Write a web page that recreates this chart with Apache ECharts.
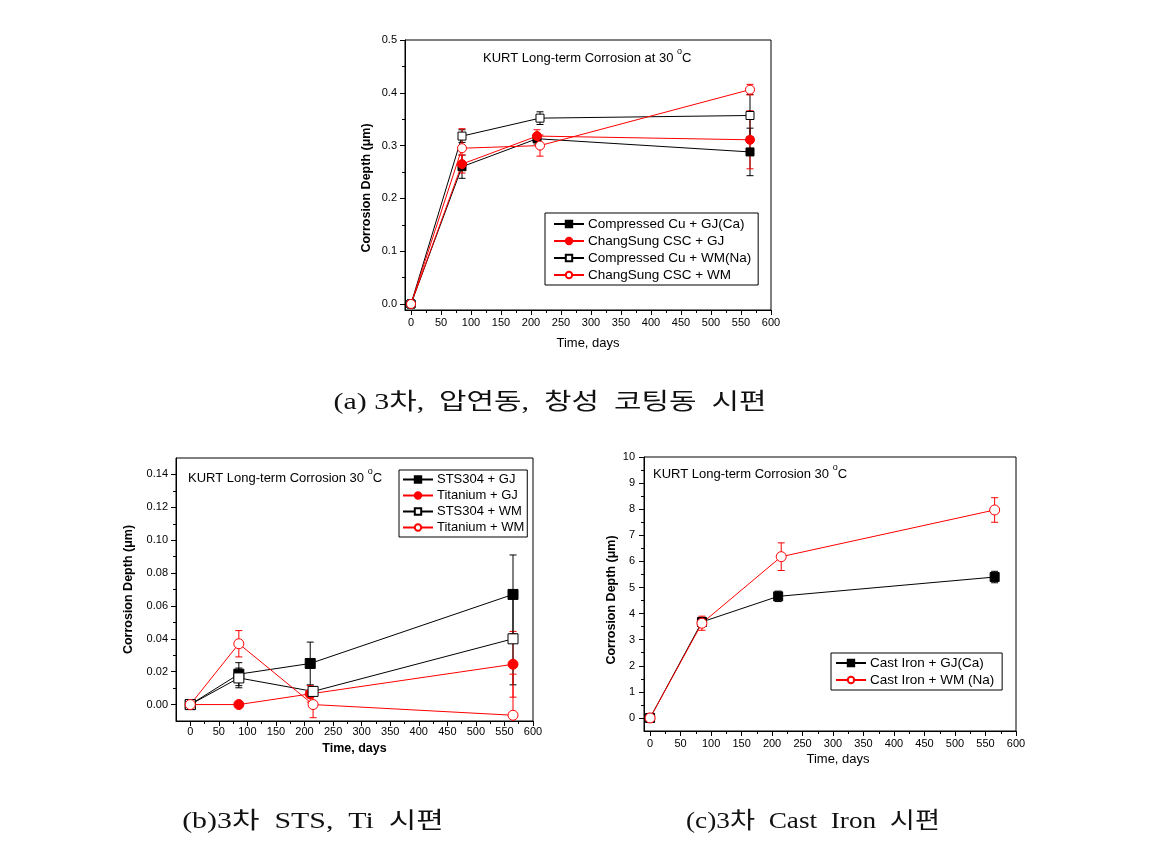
<!DOCTYPE html>
<html><head><meta charset="utf-8">
<script src="https://cdn.jsdelivr.net/npm/echarts@6/dist/echarts.min.js"></script>
<style>html,body{margin:0;padding:0;background:#fff}#c{width:1172px;height:856px}</style>
</head><body><div id="c"></div>
<script>
// ---------- data ----------
const xTicks = [0,50,100,150,200,250,300,350,400,450,500,550,600];
const xMinorTicks = [25,75,125,175,225,275,325,375,425,475,525,575];

// (a) copper
const aTimeGJ = [0, 85, 210, 565];
const aTimeWM = [0, 85, 215, 565];
const aCuGJ = [0, 0.260, 0.313, 0.288];
const aCuGJErr = [0, 0.022, 0.010, 0.045];
const aCscGJ = [0, 0.265, 0.318, 0.311];
const aCscGJErr = [0, 0.017, 0.012, 0.055];
const aCuWM = [0, 0.318, 0.352, 0.357];
const aCuWMErr = [0, 0.012, 0.012, 0.040];
const aCscWM = [0, 0.295, 0.300, 0.406];
const aCscWMErr = [0, 0.037, 0.020, 0.010];
const aYTicks = [0, 0.1, 0.2, 0.3, 0.4, 0.5];
const aYMinor = [0.05, 0.15, 0.25, 0.35, 0.45];

// (b) STS / Ti
const bTimeGJ = [0, 85, 210, 565];
const bTimeWM = [0, 85, 215, 565];
const bStsGJ = [0, 0.0185, 0.0250, 0.0670];
const bStsGJErr = [0, 0.007, 0.013, 0.024];
const bTiGJ = [0, 0.0000, 0.0065, 0.0245];
const bTiGJErr = [0, 0.001, 0.005, 0.020];
const bStsWM = [0, 0.0162, 0.0080, 0.0400];
const bStsWMErr = [0, 0.006, 0.003, 0.028];
const bTiWM = [0, 0.0370, 0.0000, -0.0065];
const bTiWMErr = [0, 0.008, 0.008, 0.025];
const bYTicks = [0, 0.02, 0.04, 0.06, 0.08, 0.10, 0.12, 0.14];
const bYMinor = [0.01, 0.03, 0.05, 0.07, 0.09, 0.11, 0.13];

// (c) cast iron
const cTimeGJ = [0, 85, 210, 565];
const cTimeWM = [0, 85, 215, 565];
const cIronGJ = [0, 3.68, 4.66, 5.40];
const cIronGJErr = [0, 0.15, 0.20, 0.22];
const cIronWM = [0, 3.63, 6.18, 7.97];
const cIronWMErr = [0, 0.27, 0.53, 0.47];
const cYTicks = [0,1,2,3,4,5,6,7,8,9,10];
const cYMinor = [0.5,1.5,2.5,3.5,4.5,5.5,6.5,7.5,8.5,9.5];

const captionA = '(a) 3\ucc28,  \uc555\uc5f0\ub3d9,  \ucc3d\uc131  \ucf54\ud305\ub3d9  \uc2dc\ud3b8';
const captionB = '(b)3\ucc28  STS,  Ti  \uc2dc\ud3b8';
const captionC = '(c)3\ucc28  Cast  Iron  \uc2dc\ud3b8';

// ---------- build ----------
const SANS = "'Liberation Sans', Arial, sans-serif";
const SERIF = "'Liberation Serif', 'Noto Sans CJK KR', serif";
const RED = '#ff0000', BLK = '#000000';

const grids = [
  {left: 405, top: 40, width: 366, height: 270, show: true, borderColor: '#000', borderWidth: 1},
  {left: 176, top: 458, width: 357, height: 263, show: true, borderColor: '#000', borderWidth: 1},
  {left: 644, top: 457, width: 372, height: 274, show: true, borderColor: '#000', borderWidth: 1}
];

const xAxes = [], yAxes = [];
function addAxes(gi, xr, yr, yMajor, yMinor, yDigits, opt) {
  xAxes.push({
    type: 'value', gridIndex: gi, min: xr[0], max: xr[1], position: 'bottom',
    name: 'Time, days', nameLocation: 'middle', nameGap: opt.xGap,
    nameTextStyle: {fontFamily: SANS, fontSize: opt.xNameSize, fontWeight: opt.xBold ? 'bold' : 'normal', color: '#000', padding: opt.xPad || 0},
    axisLine: {show: true, onZero: false, lineStyle: {color: '#000', width: 1}},
    axisTick: {show: true, length: 5, customValues: xTicks, lineStyle: {color: '#000'}},
    axisLabel: {show: true, customValues: xTicks, margin: opt.xMargin, fontFamily: SANS, fontSize: 11, color: '#000', formatter: v => String(v)},
    splitLine: {show: false}
  });
  xAxes.push({
    type: 'value', gridIndex: gi, min: xr[0], max: xr[1], position: 'bottom',
    axisLine: {show: false, onZero: false}, axisLabel: {show: false}, splitLine: {show: false},
    axisTick: {show: true, length: 3, customValues: xMinorTicks, lineStyle: {color: '#000'}}
  });
  yAxes.push({
    type: 'value', gridIndex: gi, min: yr[0], max: yr[1], position: 'left',
    name: 'Corrosion Depth (\u03bcm)', nameLocation: 'middle', nameGap: opt.yGap,
    nameTextStyle: {fontFamily: SANS, fontSize: opt.yNameSize, fontWeight: 'bold', color: '#000', padding: opt.yPad || 0},
    axisLine: {show: true, onZero: false, lineStyle: {color: '#000', width: 1}},
    axisTick: {show: true, length: 5, customValues: yMajor, lineStyle: {color: '#000'}},
    axisLabel: {show: true, customValues: yMajor, margin: opt.yMargin, fontFamily: SANS, fontSize: 11, color: '#000', formatter: v => v.toFixed(yDigits)},
    splitLine: {show: false}
  });
  yAxes.push({
    type: 'value', gridIndex: gi, min: yr[0], max: yr[1], position: 'left',
    axisLine: {show: false, onZero: false}, axisLabel: {show: false}, splitLine: {show: false},
    axisTick: {show: true, length: 3, customValues: yMinor, lineStyle: {color: '#000'}}
  });
}
addAxes(0, [-10, 600], [-0.0114, 0.5], aYTicks, aYMinor, 1,
  {xGap: 27, xNameSize: 13, xBold: false, xMargin: 7, yGap: 32, yNameSize: 12.5, yMargin: 8, yPad: [0, 26, 0, 0]});
addAxes(1, [-25, 600], [-0.01, 0.15], bYTicks, bYMinor, 2,
  {xGap: 21, xNameSize: 12.5, xBold: true, xMargin: 5, yGap: 41, yNameSize: 12.5, yMargin: 8});
addAxes(2, [-10, 600], [-0.5, 10], cYTicks, cYMinor, 0,
  {xGap: 22, xNameSize: 13, xBold: false, xMargin: 7, yGap: 26, yNameSize: 12.5, yMargin: 9, yPad: [0, 12, 0, 0], xPad: [0, 0, 0, 16]});

const series = [];
function addSeries(gi, name, t, v, e, color, filled, symbol, size) {
  series.push({
    type: 'custom', name: name + ' err', xAxisIndex: gi * 2, yAxisIndex: gi * 2, clip: true, z: 2,
    silent: true, legendHoverLink: false,
    data: t.map((x, i) => [x, v[i], e[i]]),
    encode: {x: 0, y: 1},
    renderItem: (params, api) => {
      const x = api.value(0), y = api.value(1), er = api.value(2);
      if (!er) return null;
      const p1 = api.coord([x, y + er]);
      const p2 = api.coord([x, y - er]);
      const w = 3.5;
      const st = {stroke: color, lineWidth: 1};
      return {type: 'group', children: [
        {type: 'line', shape: {x1: p1[0], y1: p1[1], x2: p2[0], y2: p2[1]}, style: st},
        {type: 'line', shape: {x1: p1[0] - w, y1: p1[1], x2: p1[0] + w, y2: p1[1]}, style: st},
        {type: 'line', shape: {x1: p2[0] - w, y1: p2[1], x2: p2[0] + w, y2: p2[1]}, style: st}
      ]};
    }
  });
  series.push({
    type: 'line', name: name, xAxisIndex: gi * 2, yAxisIndex: gi * 2, z: 3,
    data: t.map((x, i) => [x, v[i]]),
    symbol: symbol, symbolSize: size, showSymbol: true,
    lineStyle: {color: color, width: 1},
    itemStyle: {color: filled ? color : '#ffffff', borderColor: color, borderWidth: 1},
    emphasis: {disabled: true}, animation: false
  });
}
addSeries(0, 'Compressed Cu + GJ(Ca)', aTimeGJ, aCuGJ, aCuGJErr, BLK, true, 'rect', 8);
addSeries(0, 'ChangSung CSC + GJ', aTimeGJ, aCscGJ, aCscGJErr, RED, true, 'circle', 9);
addSeries(0, 'Compressed Cu + WM(Na)', aTimeWM, aCuWM, aCuWMErr, BLK, false, 'rect', 8);
addSeries(0, 'ChangSung CSC + WM', aTimeWM, aCscWM, aCscWMErr, RED, false, 'circle', 9);

addSeries(1, 'STS304 + GJ', bTimeGJ, bStsGJ, bStsGJErr, BLK, true, 'rect', 10);
addSeries(1, 'Titanium + GJ', bTimeGJ, bTiGJ, bTiGJErr, RED, true, 'circle', 10);
addSeries(1, 'STS304 + WM', bTimeWM, bStsWM, bStsWMErr, BLK, false, 'rect', 10);
addSeries(1, 'Titanium + WM', bTimeWM, bTiWM, bTiWMErr, RED, false, 'circle', 10);

addSeries(2, 'Cast Iron + GJ(Ca)', cTimeGJ, cIronGJ, cIronGJErr, BLK, true, 'rect', 9);
addSeries(2, 'Cast Iron + WM (Na)', cTimeWM, cIronWM, cIronWMErr, RED, false, 'circle', 10);

function legend(names, left, top, fs, gap, pad) {
  return {
    orient: 'vertical', left: left, top: top, data: names,
    itemWidth: 30, itemHeight: 8, itemGap: gap, padding: pad,
    borderColor: '#000', borderWidth: 1, borderRadius: 0, backgroundColor: '#fff',
    selectedMode: false,
    textStyle: {fontFamily: SANS, fontSize: fs, color: '#000', padding: [0, 0, 0, -1]}
  };
}
const legends = [
  legend(['Compressed Cu + GJ(Ca)', 'ChangSung CSC + GJ', 'Compressed Cu + WM(Na)', 'ChangSung CSC + WM'], 545, 213, 13.5, 3, [4, 7, 3, 8]),
  legend(['STS304 + GJ', 'Titanium + GJ', 'STS304 + WM', 'Titanium + WM'], 399, 470, 13, 3, [3, 3, 3, 3]),
  legend(['Cast Iron + GJ(Ca)', 'Cast Iron + WM (Na)'], 831, 653, 13.5, 3, [3, 8, 3, 4])
];

function annot(x, y, main) {
  return {
    type: 'text', x: x, y: y, z: 10,
    style: {
      text: '{m|' + main + '}{s|o}{m|C}',
      textVerticalAlign: 'middle', textAlign: 'left',
      rich: {
        m: {fontFamily: SANS, fontSize: 13, lineHeight: 18, verticalAlign: 'bottom', fill: '#000'},
        s: {fontFamily: SANS, fontSize: 9, lineHeight: 8, verticalAlign: 'top', fill: '#000'}
      }
    }
  };
}
const measureCtx = document.createElement('canvas').getContext('2d');
function caption(cx, y, txt, targetW) {
  const font = '23px ' + SERIF;
  measureCtx.font = font;
  const w = measureCtx.measureText(txt).width;
  const sx = Math.max(0.9, Math.min(1.3, targetW / w));
  return {type: 'text', x: cx, y: y, scaleX: sx, scaleY: 1,
    style: {text: txt, font: font, fill: '#111', textAlign: 'center', textVerticalAlign: 'middle'}};
}
const graphics = [
  annot(483, 56, 'KURT Long-term Corrosion at 30 '),
  annot(188, 476, 'KURT Long-term Corrosion 30 '),
  annot(653, 472, 'KURT Long-term Corrosion 30 '),
  caption(550, 403, captionA, 437),
  caption(313, 822, captionB, 270),
  caption(813, 822, captionC, 254)
];

const chart = echarts.init(document.getElementById('c'), null, {renderer: 'canvas'});
chart.setOption({
  animation: false,
  backgroundColor: '#ffffff',
  grid: grids, xAxis: xAxes, yAxis: yAxes,
  legend: legends, series: series, graphic: graphics
});
</script></body></html>
